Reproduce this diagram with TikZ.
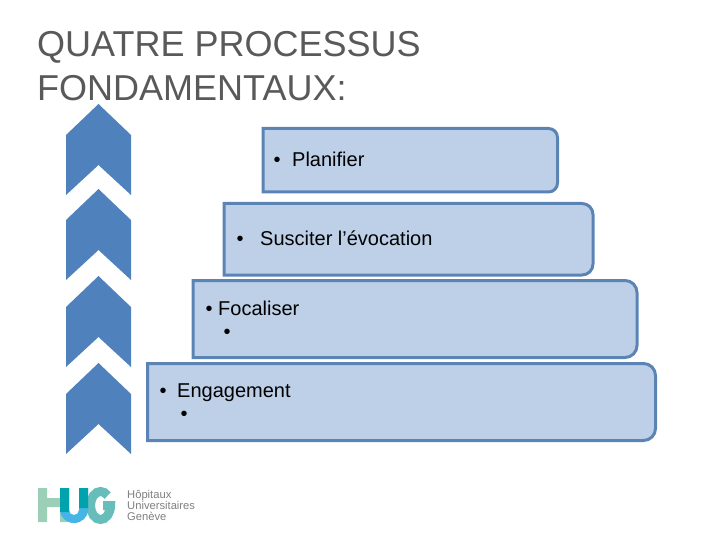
\documentclass[tikz,border=0pt]{standalone}
\usepackage{fontspec}
\setmainfont{Liberation Sans}
\definecolor{boxfill}{HTML}{BDD0E7}
\definecolor{boxline}{HTML}{5B84B5}
\definecolor{chevron}{HTML}{4F81BD}
\definecolor{titlegray}{HTML}{595959}
\definecolor{hugpale}{HTML}{9CCFB8}
\definecolor{hugteal}{HTML}{00A3AD}
\definecolor{hugblue}{HTML}{45B5E6}
\definecolor{huggreen}{HTML}{66BDB9}
\definecolor{huggray}{HTML}{7F7F7F}
\newcommand{\upchevron}[1]{\fill[chevron] (98.5,#1) -- (131,#1+31) -- (131,#1+91) -- (98.5,#1+61) -- (66,#1+91) -- (66,#1+31) -- cycle;}

\begin{document}
\begin{tikzpicture}[x=1pt,y=-1pt,
  box/.style={draw=boxline,fill=boxfill,line width=3pt,sharp corners},
  label/.style={anchor=base west,inner sep=0,font=\fontsize{20}{20}\selectfont},
  bullet/.style={anchor=base,inner sep=0,font=\fontsize{20}{20}\selectfont},
  heading/.style={anchor=base west,inner sep=0,text=titlegray,font=\fontsize{36}{36}\selectfont},
  hugtext/.style={anchor=base west,inner sep=0,text=huggray,font=\fontsize{11.2}{11.2}\selectfont}]
\useasboundingbox (0,0) rectangle (720,540);

% title
\node[heading] (title1) at (37,57) {QUATRE PROCESSUS};
\node[heading] (title2) at (37,101) {FONDAMENTAUX:};

% chevrons
\foreach \y in {104,189,276,363} {\upchevron{\y}}

% boxes - square on the left, round on the right
\draw[box] (263,128.5) -- (548,128.5) [rounded corners=9pt] -- (557.5,128.5) -- (557.5,192) [sharp corners] -- (548,192) -- (263,192) -- cycle;
\draw[box] (224,203.5) -- (580,203.5) [rounded corners=11pt] -- (593,203.5) -- (593,275) [sharp corners] -- (580,275) -- (224,275) -- cycle;
\draw[box] (193,280.5) -- (625,280.5) [rounded corners=12pt] -- (637,280.5) -- (637,357.5) [sharp corners] -- (625,357.5) -- (193,357.5) -- cycle;
\draw[box] (147.5,363.5) -- (642,363.5) [rounded corners=12pt] -- (655.5,363.5) -- (655.5,440.5) [sharp corners] -- (642,440.5) -- (147.5,440.5) -- cycle;

% texts
\node[bullet] (b1) at (277,166.5) {•};
\node[label] (plan) at (292,166.5) {Planifier};
\node[bullet] (b2) at (240,245) {•};
\node[label] (evoc) at (260,245) {Susciter l’évocation};
\node[bullet] (b3) at (209,315) {•};
\node[label] (foca) at (218,315) {Focaliser};
\node[bullet] (b3s) at (227,338) {•};
\node[bullet] (b4) at (163,397) {•};
\node[label] (enga) at (177,397) {Engagement};
\node[bullet] (b4s) at (184,420) {•};

% logo
\fill[hugpale] (38,488) rectangle (47,522) (60,488) rectangle (69,522) (47,498) rectangle (60,507);
\draw[huggreen,line width=9pt] (107.6,495.6) arc[start angle=-45,end angle=-360,x radius=10,y radius=14] -- (103,505.5);
\fill[hugblue] (60,488) -- (60,510) arc[start angle=180,end angle=0,x radius=14,y radius=13] -- (88,488) -- (79,488) -- (79,510) arc[start angle=0,end angle=180,x radius=5,y radius=5] -- (69,488) -- cycle;
\fill[hugteal] (60,488) rectangle (69,512) (79,488) rectangle (88,508);
\node[hugtext] (hug1) at (127,498) {Hôpitaux};
\node[hugtext] (hug2) at (127,509) {Universitaires};
\node[hugtext] (hug3) at (127,520) {Genève};
\end{tikzpicture}
\end{document}
